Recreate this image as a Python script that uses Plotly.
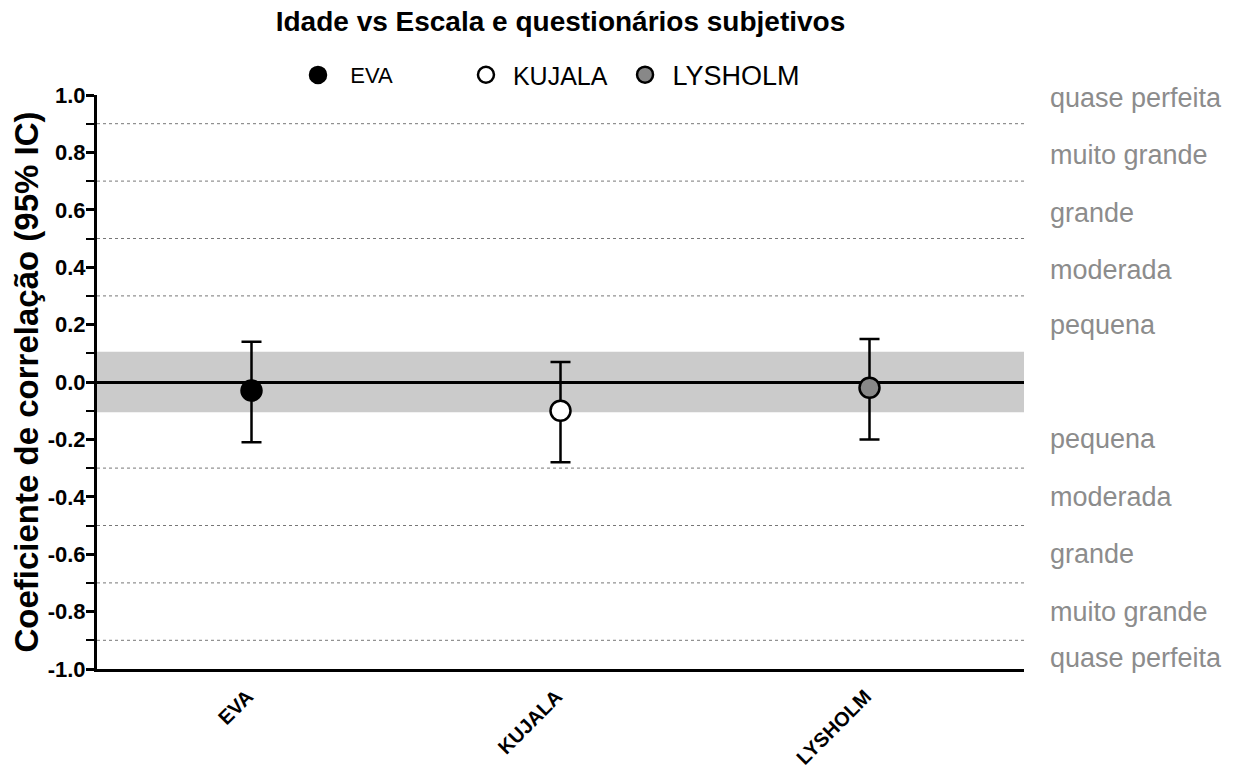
import plotly.graph_objects as go

categories = ["EVA", "KUJALA", "LYSHOLM"]
r_values = [-0.03, -0.10, -0.02]
ci_lower = [-0.21, -0.28, -0.20]
ci_upper = [0.14, 0.07, 0.15]
marker_colors = ["#000000", "#ffffff", "#888888"]
legend_font_sizes = [22, 25, 27]
legend_pad = ["&nbsp;&nbsp;", "&nbsp;", "&nbsp;"]
legend_x = [0.2411, 0.377, 0.5057]

band_limit = 0.105
threshold_lines = [0.9, 0.7, 0.5, 0.3, -0.3, -0.5, -0.7, -0.9]
zone_labels = ["quase perfeita", "muito grande", "grande", "moderada", "pequena",
               "pequena", "moderada", "grande", "muito grande", "quase perfeita"]
zone_positions = [0.99, 0.79, 0.59, 0.39, 0.2, -0.2, -0.4, -0.6, -0.8, -0.96]
y_ticks = [1.0, 0.8, 0.6, 0.4, 0.2, 0.0, -0.2, -0.4, -0.6, -0.8, -1.0]

FONT = "Liberation Sans, Arial, sans-serif"

fig = go.Figure()
legend_ids = ["legend", "legend2", "legend3"]
for i, (cat, r, lo, hi, col) in enumerate(zip(categories, r_values, ci_lower, ci_upper, marker_colors)):
    fig.add_trace(go.Scatter(
        x=[cat], y=[r], mode="markers",
        name=legend_pad[i] + cat,
        legend=legend_ids[i], showlegend=True,
        marker=dict(size=20, color=col, line=dict(color="#000000", width=2.5)),
        error_y=dict(type="data", symmetric=False, array=[hi - r], arrayminus=[r - lo],
                     color="#000000", thickness=2.5, width=10),
    ))

shapes = [dict(type="rect", xref="paper", x0=0, x1=1, yref="y", y0=-band_limit, y1=band_limit,
               fillcolor="#cbcbcb", line=dict(width=0), layer="below")]
for yv in threshold_lines:
    shapes.append(dict(type="line", xref="paper", x0=0, x1=1, yref="y", y0=yv, y1=yv,
                       line=dict(color="#777777", width=1, dash="3px,3px"), layer="below"))

annotations = []
for lab, yp in zip(zone_labels, zone_positions):
    annotations.append(dict(text=lab, xref="paper", x=1.026, xanchor="left", yref="y", y=yp,
                            yanchor="middle", showarrow=False,
                            font=dict(family=FONT, size=27, color="#8c8c8c")))

legend_layouts = {}
for lid, lx, fs in zip(legend_ids, legend_x, legend_font_sizes):
    legend_layouts[lid] = dict(orientation="h", xref="container", x=lx, xanchor="left",
                               yref="container", y=0.903, yanchor="middle",
                               bgcolor="rgba(0,0,0,0)", visible=True,
                               font=dict(family=FONT, size=fs, color="#000000"), itemsizing="trace")

fig.update_layout(
    width=1236, height=774,
    showlegend=True,
    margin=dict(l=97, r=212, t=95, b=105, autoexpand=False),
    paper_bgcolor="white", plot_bgcolor="white",
    shapes=shapes, annotations=annotations,
    title=dict(text="<b>Idade vs Escala e questionários subjetivos</b>", x=(97 + 1024) / 2 / 1236,
               xanchor="center", y=0.972, yanchor="middle",
               font=dict(family=FONT, size=28, color="#000000")),
    **legend_layouts,
    xaxis=dict(type="category", range=[-0.5, 2.5], showline=True, linecolor="#000000", linewidth=3,
               ticks="", showgrid=False, zeroline=False, tickangle=-45, automargin=False,
               ticklabelstandoff=5, ticklabelshift=-4,
               tickfont=dict(family=FONT, size=20, color="#000000"),
               tickvals=categories, ticktext=["<b>%s</b>" % c for c in categories]),
    yaxis=dict(range=[-1, 1], showline=True, linecolor="#000000", linewidth=3, automargin=False,
               tickvals=y_ticks, ticktext=["<b>%.1f</b>" % v for v in y_ticks],
               ticks="outside", ticklen=8, tickwidth=2.5, tickcolor="#000000",
               ticklabelstandoff=-4,
               minor=dict(dtick=0.1, ticks="outside", ticklen=8, tickwidth=2, tickcolor="#000000", showgrid=False),
               showgrid=False, zeroline=True, zerolinecolor="#000000", zerolinewidth=3,
               tickfont=dict(family=FONT, size=22, color="#000000"),
               title=dict(text="<b>Coeficiente de correlação (95% IC)</b>", standoff=0,
                          font=dict(family=FONT, size=33, color="#000000"))),
)

fig.write_html("out.html", config={"displayModeBar": False},
               post_script="document.body.style.margin='0px';")
